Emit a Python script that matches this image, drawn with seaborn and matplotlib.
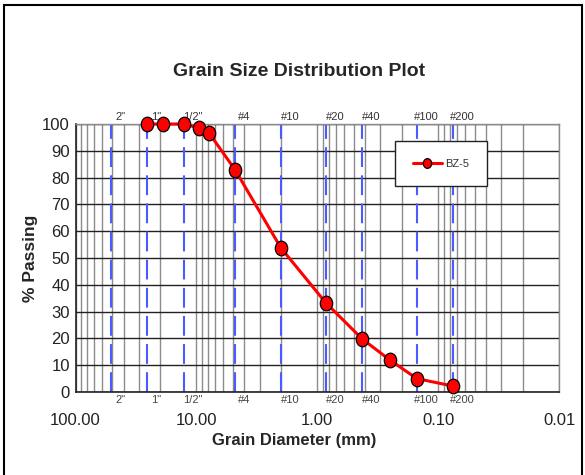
import matplotlib
matplotlib.use("Agg")
import matplotlib.pyplot as plt
import matplotlib.ticker as mticker
from matplotlib.path import Path
from matplotlib.transforms import Affine2D, blended_transform_factory
from matplotlib.patches import Rectangle
import seaborn as sns
import pandas as pd

# sieve analysis, sample BZ-5
diameter_mm = [25.4, 19.05, 12.7, 9.5, 7.9, 4.75, 2.0, 0.85, 0.425, 0.25, 0.15, 0.075]
pct_passing = [100, 100, 100, 98.5, 96.8, 82.7, 53.8, 33.3, 19.8, 11.9, 5.0, 2.2]

# standard sieves marked on the chart
sieve_names = ['2"', '1"', '1/2"', '#4', '#10', '#20', '#40', '#100', '#200']
sieve_sizes = [50.8, 25.4, 12.7, 4.75, 2.0, 0.85, 0.425, 0.15, 0.075]

df = pd.DataFrame({"Diameter": diameter_mm, "Passing": pct_passing})

sns.set_style("white")
plt.rcParams['font.family'] = ['Liberation Sans', 'DejaVu Sans']

fig = plt.figure(figsize=(5.85, 4.75), dpi=100)
ax = fig.add_axes([75.5 / 585, 83 / 475, 483.5 / 585, 268 / 475])

# sieve lines
for d in sieve_sizes:
    ax.axvline(d, color="#4a5cff", lw=1.5, ls=(0, (9.5, 4)), zorder=2)

# slightly narrow ellipse marker like the original
ell = Path.unit_circle().transformed(Affine2D().scale(0.85, 1.0))
sns.lineplot(data=df, x="Diameter", y="Passing", ax=ax, color="red", lw=2.2,
             marker=ell, markersize=10.5, markerfacecolor="red",
             markeredgecolor="black", markeredgewidth=0.9, label="BZ-5",
             sort=False, zorder=5, clip_on=False)

ax.set_xscale("log")
ax.set_xlim(100, 0.01)
ax.set_ylim(0, 100)
ax.xaxis.set_major_locator(mticker.LogLocator(base=10, numticks=10))
ax.xaxis.set_minor_locator(mticker.LogLocator(base=10, subs=range(2, 10), numticks=20))
ax.xaxis.set_major_formatter(mticker.FuncFormatter(lambda v, p: f"{v:.2f}"))
ax.xaxis.set_minor_formatter(mticker.NullFormatter())
ax.yaxis.set_major_locator(mticker.MultipleLocator(10))
ax.yaxis.set_minor_locator(mticker.MultipleLocator(1))

ax.grid(True, which="major", axis="y", color="#222222", lw=1.0, zorder=1)
ax.grid(True, which="both", axis="x", color="#8c8c8c", lw=1.0, zorder=1)

ax.tick_params(axis="x", which="major", direction="out", length=4, pad=11,
               labelsize=12, colors="#222222")
ax.tick_params(axis="x", which="minor", length=0)
ax.tick_params(axis="y", which="major", length=0, pad=4, labelsize=12, colors="#222222")
ax.tick_params(axis="y", which="minor", direction="in", length=3, width=0.6, color="#555555")

for side in ["left", "bottom"]:
    ax.spines[side].set_color("#222222")
    ax.spines[side].set_linewidth(1.2)
for side in ["top", "right"]:
    ax.spines[side].set_color("#8c8c8c")
    ax.spines[side].set_linewidth(1.0)

# sieve labels above and below the plot
trans = blended_transform_factory(ax.transData, ax.transAxes)
for name, d in zip(sieve_names, sieve_sizes):
    ax.annotate(name, xy=(d, 1), xycoords=trans, xytext=(6.5, 1.5),
                textcoords="offset points", ha="center", va="bottom",
                fontsize=8, color="#333333")
    ax.annotate(name, xy=(d, 0), xycoords=trans, xytext=(6.5, -2),
                textcoords="offset points", ha="center", va="top",
                fontsize=8, color="#444444")

ax.set_xlabel("")
ax.set_ylabel("")
fig.text(294 / 585, 1 - 441 / 475, "Grain Diameter (mm)", ha="center", va="center",
         fontsize=12, fontweight="bold")
fig.text(31 / 585, 1 - 258 / 475, "% Passing", ha="center", va="center",
         rotation=90, fontsize=12.5, fontweight="bold")
fig.text(299 / 585, 1 - 72 / 475, "Grain Size Distribution Plot", ha="center",
         va="center", fontsize=14, fontweight="bold")

leg = ax.legend(loc="upper left", bbox_to_anchor=(0.661, 0.937), fontsize=8,
                frameon=True, fancybox=False, shadow=False, borderpad=1.6,
                handlelength=2.6, handletextpad=0.3, borderaxespad=0,
                framealpha=1)
leg.get_frame().set_edgecolor("#222222")
leg.get_frame().set_linewidth(1.0)
leg.get_frame().set_facecolor("white")
for h in leg.legend_handles:
    h.set_markersize(7)
for t in leg.get_texts():
    t.set_color("#333333")

# outer chart border
fig.patches.append(Rectangle((4 / 585, -0.02), 578 / 585, 1.0 - 5 / 475 + 0.02,
                             transform=fig.transFigure, fill=False,
                             edgecolor="black", lw=1.5))

fig.savefig("out.png", dpi=100)
